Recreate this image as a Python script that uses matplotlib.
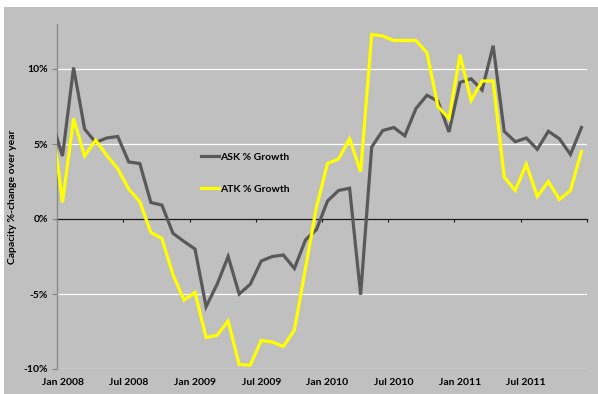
import matplotlib.pyplot as plt
import matplotlib.transforms as mtransforms
from matplotlib.patches import Rectangle
import numpy as np

# monthly capacity growth, Jan 2008 .. Dec 2011 (plus Dec 2007 lead-in, cut at the axis)
months = [f"{m} {y}" for y in range(2008, 2012) for m in
          ["Jan", "Feb", "Mar", "Apr", "May", "Jun", "Jul", "Aug", "Sep", "Oct", "Nov", "Dec"]]
ask_dec2007 = 6.6
atk_dec2007 = 6.9
ask_growth = [4.2, 10.1, 6.0, 5.1, 5.4, 5.5, 3.8, 3.7, 1.1, 0.93, -0.95, -1.5,
              -2.0, -5.85, -4.35, -2.5, -5.0, -4.35, -2.8, -2.5, -2.4, -3.3, -1.4, -0.7,
              1.2, 1.9, 2.05, -5.05, 4.8, 5.9, 6.1, 5.55, 7.35, 8.25, 7.85, 5.8,
              9.1, 9.35, 8.6, 11.55, 5.85, 5.15, 5.4, 4.65, 5.85, 5.35, 4.3, 6.1]
atk_growth = [1.1, 6.7, 4.2, 5.25, 4.25, 3.35, 2.0, 1.15, -0.9, -1.3, -3.7, -5.4,
              -4.9, -7.9, -7.75, -6.8, -9.7, -9.75, -8.1, -8.2, -8.5, -7.4, -3.3, 0.8,
              3.7, 4.0, 5.35, 3.15, 12.3, 12.2, 11.9, 11.9, 11.9, 11.1, 7.5, 6.7,
              10.95, 7.9, 9.2, 9.2, 2.8, 1.9, 3.65, 1.5, 2.5, 1.3, 1.9, 4.5]
y_ticks = [-10, -5, 0, 5, 10]

plt.rcParams['font.family'] = ['Lato', 'DejaVu Sans']
plt.rcParams['font.weight'] = 'bold'

fig = plt.figure(figsize=(5.98, 3.94), dpi=100)
fig.patch.set_facecolor('white')
fig.patches.append(Rectangle((4 / 598, 0), 1, 387 / 394, transform=fig.transFigure,
                             facecolor='#c0c0c0', edgecolor='none', zorder=-1))

ax = fig.add_axes([57 / 598, 25 / 394, 530 / 598, 345 / 394])
ax.set_facecolor('none')

x = np.arange(-1, len(months))
ax.plot(x, [ask_dec2007] + ask_growth, color='#595959', lw=2.3, label='ASK % Growth',
        solid_joinstyle='miter', zorder=3)
ax.plot(x, [atk_dec2007] + atk_growth, color='#ffff00', lw=2.3, label='ATK % Growth',
        solid_joinstyle='miter', zorder=4)

ax.set_xlim(-0.5, len(months) - 0.5)
ax.set_ylim(-10, 13)

# white gridlines
for v in y_ticks:
    if v != 0:
        ax.axhline(v, color='white', lw=0.9, zorder=1)

for side in ['top', 'right']:
    ax.spines[side].set_visible(False)
ax.spines['left'].set_color('#868686')
ax.spines['left'].set_linewidth(0.9)
ax.spines['bottom'].set_position(('data', 0))
ax.spines['bottom'].set_color('#1a1a1a')
ax.spines['bottom'].set_linewidth(0.9)
ax.spines['bottom'].set_zorder(2)

ax.set_yticks(y_ticks)
ax.set_yticklabels([f"{v}%" for v in y_ticks])
ax.tick_params(axis='y', direction='out', length=3.5, width=0.8, color='#868686',
               pad=3, labelsize=7.5)

ax.set_xticks(np.arange(-0.5, len(months), 6))
ax.set_xticklabels([])
ax.tick_params(axis='x', direction='out', length=2.5, width=0.8, color='#1a1a1a')

# month labels sit along the bottom of the plot
trans = mtransforms.blended_transform_factory(ax.transData, ax.transAxes)
for i in range(0, len(months), 6):
    ax.text(i, -0.038, months[i], transform=trans, ha='center', va='center',
            fontsize=7.5, fontweight='bold')

fig.text(13 / 598, 1 - 197 / 394, 'Capacity %-change over year', rotation=90,
         ha='center', va='center', fontsize=7.5, fontweight='bold')

ax.legend(loc='center left', bbox_to_anchor=(201 / 598, 1 - 173 / 394),
          bbox_transform=fig.transFigure, frameon=False, fontsize=7.5,
          handlelength=1.75, handletextpad=0.1, labelspacing=2.2,
          borderpad=0, borderaxespad=0)

fig.savefig('out.png', dpi=100)
